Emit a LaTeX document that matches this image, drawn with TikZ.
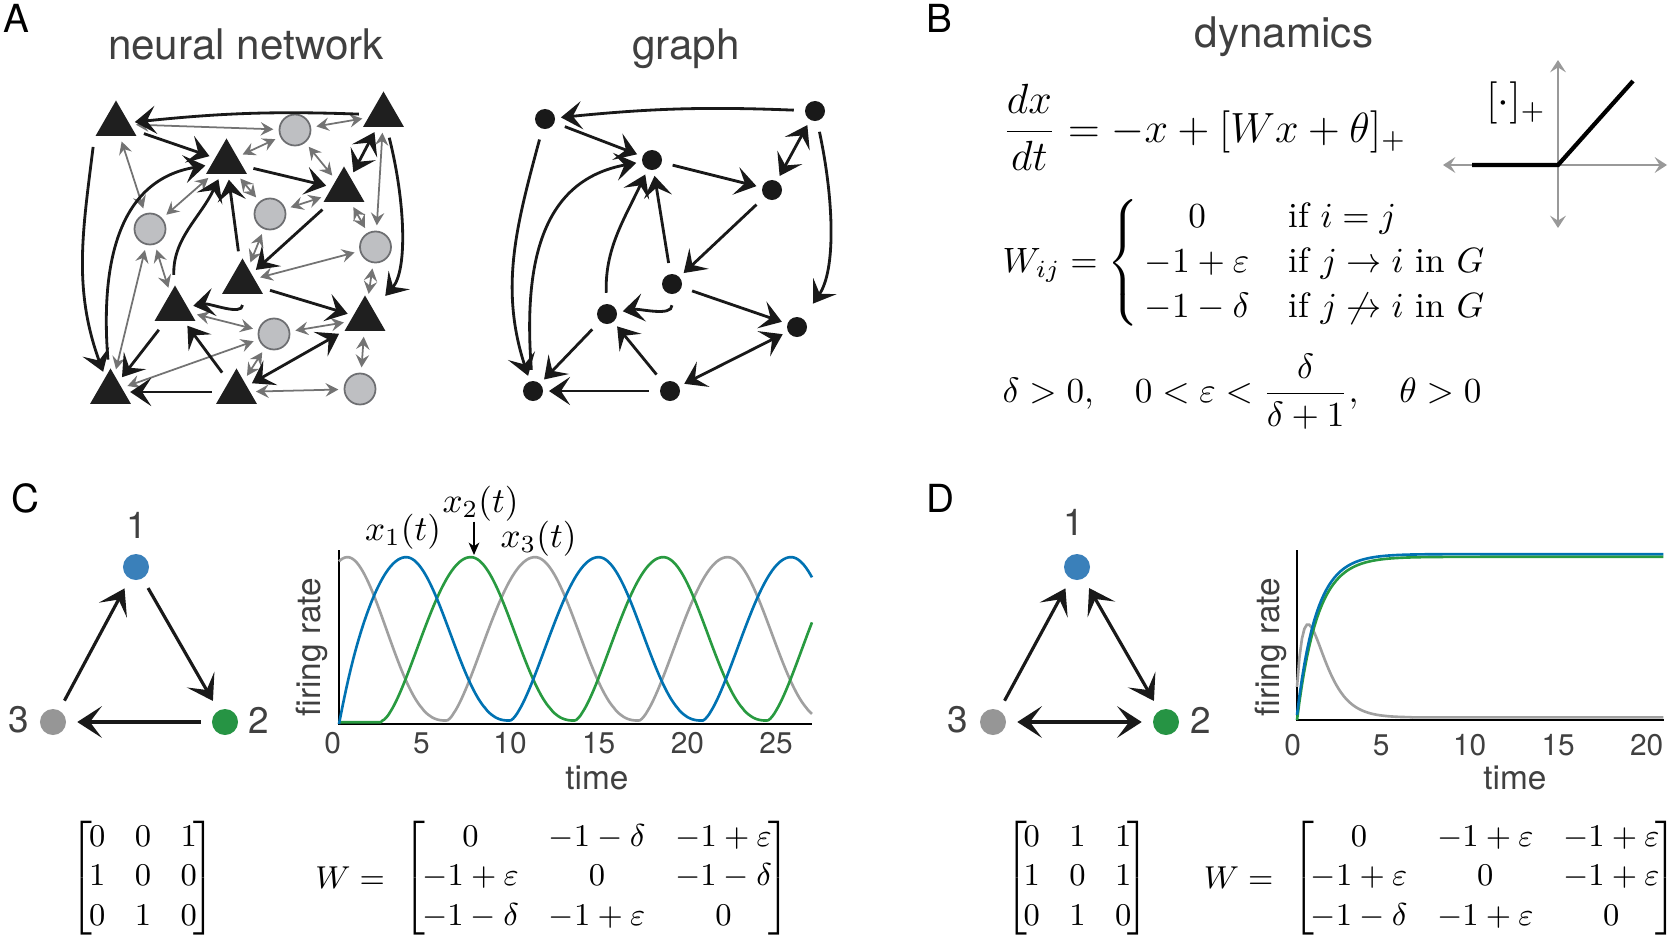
\RequirePackage{fix-cm}
\documentclass[tikz,border=0pt]{standalone}
\usepackage{amsmath,amssymb}
\usepackage[no-math]{fontspec}
\newfontfamily\hv{TeX Gyre Heros}
\usetikzlibrary{arrows.meta, shapes.geometric, positioning}
\definecolor{txtgray}{RGB}{64,64,64}
\definecolor{inhfill}{RGB}{190,191,194}
\definecolor{inhdraw}{RGB}{110,111,114}
\definecolor{nblue}{RGB}{58,128,186}
\definecolor{ngreen}{RGB}{38,148,68}
\definecolor{ngray}{RGB}{150,150,150}
\definecolor{lblue}{RGB}{0,114,178}
\definecolor{lgreen}{RGB}{40,154,64}
\definecolor{lgray}{RGB}{160,160,160}
\newcommand{\mtxset}{\fontsize{9}{11}\selectfont\setlength{\arraycolsep}{4.2pt}\renewcommand{\arraystretch}{1.03}}
\newcommand{\wmat}[1]{\left[\hskip-\arraycolsep\hskip-1pt\begin{array}{ccc}#1\end{array}\hskip-\arraycolsep\hskip-1pt\right]}
\tikzset{ttl/.style={font=\hv\fontsize{12}{14}\selectfont, text=txtgray}}
\tikzset{plab/.style={font=\hv\fontsize{11}{13}\selectfont}}
\tikzset{nlab/.style={font=\hv\fontsize{10.5}{12}\selectfont, text=txtgray}}
\tikzset{alab/.style={font=\hv\fontsize{9.5}{11}\selectfont, text=txtgray}}
\tikzset{tlab/.style={font=\hv\fontsize{8.5}{10}\selectfont, text=txtgray}}
\tikzset{mth/.style={inner sep=0pt}}
\tikzset{mtx/.style={inner sep=0pt, font=\mtxset}}
\tikzset{exc/.style={regular polygon, regular polygon sides=3, fill=black!88, inner sep=0pt, minimum size=0.47cm}}
\tikzset{inh/.style={circle, fill=inhfill, draw=inhdraw, line width=0.5pt, inner sep=0pt, minimum size=0.31cm}}
\tikzset{gnd/.style={circle, fill=black!90, inner sep=0pt, minimum size=0.2cm}}
\tikzset{cnd/.style={circle, inner sep=0pt, minimum size=0.26cm}}
\tikzset{ed/.style={draw=black!90, line width=0.8pt, -{Stealth[length=6pt,width=8pt,inset=2.6pt]}, shorten <=3pt, shorten >=1.5pt}}
\tikzset{ded/.style={ed, {Stealth[length=6pt,width=8pt,inset=2.6pt]}-{Stealth[length=6pt,width=8pt,inset=2.6pt]}, shorten <=1.5pt}}
\tikzset{gred/.style={draw=black!55, line width=0.5pt, {Stealth[length=3.6pt,width=3.8pt,inset=1.3pt]}-{Stealth[length=3.6pt,width=3.8pt,inset=1.3pt]}, shorten <=1.5pt, shorten >=1.5pt}}
\tikzset{ted/.style={draw=black!90, line width=0.9pt, -{Stealth[length=7pt,width=9pt,inset=3.4pt]}, shorten <=3pt, shorten >=3pt}}
\tikzset{tded/.style={ted, {Stealth[length=7pt,width=9pt,inset=3.4pt]}-{Stealth[length=7pt,width=9pt,inset=3.4pt]}}}
\tikzset{ax/.style={draw=black, line width=0.5pt}}
\tikzset{crv/.style={line width=0.75pt}}
\tikzset{relu/.style={draw=black!40, line width=0.6pt, {Stealth[length=3.5pt,width=4.5pt,inset=1.4pt]}-{Stealth[length=3.5pt,width=4.5pt,inset=1.4pt]}}}
\tikzset{xarr/.style={draw=black, line width=0.6pt, -{Stealth[length=3.5pt,width=3pt,inset=1pt]}}}

\begin{document}
\begin{tikzpicture}[x=0.01cm, y=0.01cm,
  declare function={wave(\s)=(\s<5.95)?pow(0.5+0.5*cos(180*\s/5.95)+0.0001,1.3):pow(abs(sin(90*(\s-5.95)/5.05))+0.0001,1.5);
                    osc(\t,\p)=0.02+0.95*wave(mod(\t-\p+33,11));}]
\useasboundingbox (0,0) rectangle (1675,-936);

% panel letters and titles
\node[plab, anchor=base] (la) at (16,-32) {A};
\node[plab, anchor=base] (lb) at (939,-32) {B};
\node[plab, anchor=base] (lc) at (25,-512) {C};
\node[plab, anchor=base] (ld) at (940,-512) {D};
\node[ttl, anchor=base] (tnn) at (246,-59) {neural network};
\node[ttl, anchor=base] (tgr) at (686,-59) {graph};
\node[ttl, anchor=base] (tdy) at (1284,-47) {dynamics};

% A: neural network
\node[exc] (e1) at (116,-124) {};
\node[exc] (e2) at (383.5,-115) {};
\node[exc] (e3) at (226.5,-162) {};
\node[exc] (e4) at (344,-190) {};
\node[exc] (e5) at (242.5,-282) {};
\node[exc] (e6) at (175,-309) {};
\node[exc] (e7) at (365,-319) {};
\node[exc] (e8) at (110.5,-392) {};
\node[exc] (e9) at (236.5,-392) {};
\node[inh] (i1) at (295,-130) {};
\node[inh] (i2) at (270,-214) {};
\node[inh] (i3) at (150,-229) {};
\node[inh] (i4) at (375.5,-247) {};
\node[inh] (i5) at (274,-334) {};
\node[inh] (i6) at (360,-389) {};
\foreach \a/\b in {e1/i1, i1/e2, i1/e3, i1/e4, e1/i3, i3/e3, e3/i2, i2/e4, e2/i4, e4/i4, i2/e5,
                   e5/i4, i3/e6, i3/e8, i4/e7, e6/i5, i5/e7, e8/i5, i5/e9, e7/i6, e9/i6}
  \draw[gred] (\a) -- (\b);
\foreach \a/\b in {e1/e3, e5/e3, e3/e4, e4/e5, e5/e7, e6/e8, e9/e6, e9/e8}
  \draw[ed] (\a) -- (\b);
\draw[ded] (e2) -- (e4);
\draw[ded] (e9) -- (e7);
\draw[ed] (e2) to[bend right=4] (e1);
\draw[ed] (e8) .. controls (100,-260) and (120,-180) .. (e3);
\draw[ed] (e6) to[out=92, in=245] (e3);
\draw[ed, shorten >=5pt] (e2) .. controls (405,-200) and (408,-270) .. (e7);
\draw[ed] (e1.corner 2) to[out=-97, in=110] (e8);
\draw[ed] (e5) to[out=-90, in=10] (e6);

% A: graph
\node[gnd] (g1) at (545,-119) {};
\node[gnd] (g2) at (815,-111) {};
\node[gnd] (g3) at (652,-160) {};
\node[gnd] (g4) at (772,-190) {};
\node[gnd] (g5) at (672,-284) {};
\node[gnd] (g6) at (607,-314) {};
\node[gnd] (g7) at (797,-327) {};
\node[gnd] (g8) at (533,-391) {};
\node[gnd] (g9) at (670,-391) {};
\foreach \a/\b in {g1/g3, g5/g3, g3/g4, g4/g5, g5/g7, g6/g8, g9/g6, g9/g8}
  \draw[ed] (\a) -- (\b);
\draw[ded] (g2) -- (g4);
\draw[ded] (g9) -- (g7);
\draw[ed] (g2) to[bend right=4] (g1);
\draw[ed] (g8) .. controls (523,-260) and (543,-180) .. (g3);
\draw[ed] (g6) to[out=92, in=245] (g3);
\draw[ed, shorten >=5pt] (g2) .. controls (834,-200) and (836,-270) .. (g7);
\draw[ed] (g1) to[out=-105, in=108] (g8);
\draw[ed] (g5) to[out=-90, in=10] (g6);

% B: dynamics
\node[mth, anchor=base west, font=\fontsize{12}{14}\selectfont] (eq1) at (1002,-142)
  {$\displaystyle \frac{dx}{dt} = -x + [Wx+\theta]_+$};
\node[mth, anchor=base west] (eq2) at (1002,-272)
  {$W_{ij} = \left\{\,\renewcommand{\arraystretch}{1.07}\begin{array}{@{}c@{\hspace{11pt}}l@{}}
     0 & \text{if } i=j\\
     -1+\varepsilon & \text{if } j\to i \text{ in } G\\
     -1-\delta & \text{if } j\not\to i \text{ in } G
   \end{array}\right.$};
\node[mth, anchor=base west] (eq3) at (1002,-402)
  {$\delta>0,\quad 0<\varepsilon<\dfrac{\delta}{\delta+1},\quad \theta>0$};
\coordinate (ro) at (1558,-165);
\draw[relu] (1443,-165) -- (1667,-165);
\draw[relu] (1558,-60) -- (1558,-228);
\draw[line width=1.2pt] (1472,-165) -- (ro) -- (1633,-81);
\node[mth, font=\fontsize{12}{14}\selectfont] (rl) at (1516,-103) {$[\cdot]_+$};

% C: cycle
\node[cnd, fill=nblue] (p1) at (136,-567) {};
\node[cnd, fill=ngreen] (p2) at (225,-722) {};
\node[cnd, fill=ngray] (p3) at (53,-722) {};
\node[nlab] (p1l) at (137,-525) {1};
\node[nlab] (p2l) at (259,-720) {2};
\node[nlab] (p3l) at (18.5,-720) {3};
\draw[ted] (p1) -- (p2);
\draw[ted] (p2) -- (p3);
\draw[ted] (p3) -- (p1);

\draw[ax] (339,-550) -- (339,-724) -- (812,-724);
\draw[crv, lgray] plot[domain=0:27.03, samples=240] ({339+17.5*\x}, {-724+172*osc(\x,0.2+0.4*exp(-\x/1.5))});
\draw[crv, lgreen] plot[domain=0:27.03, samples=240] ({339+17.5*\x}, {-724+172*((\x<2.48)?0.01:osc(\x,7.53))});
\draw[crv, lblue] plot[domain=0:27.03, samples=240] ({339+17.5*\x}, {-724+172*osc(\x,3.83)*(1-exp(-\x/0.45))});
\foreach \v [count=\k from 0] in {0,5,10,15,20,25}
  \node[tlab] (tc\k) at ({332.75+88.66*\k},-743) {\v};
\node[alab, rotate=90] (frc) at (312,-647) {firing rate};
\node[alab] (tmc) at (597,-778) {time};
\node[mth, anchor=base] (x1l) at (403,-540) {$x_1(t)$};
\node[mth, anchor=base] (x2l) at (480.5,-512) {$x_2(t)$};
\node[mth, anchor=base] (x3l) at (538.5,-547) {$x_3(t)$};
\coordinate (x2tip) at (474,-555);
\draw[xarr] (x2l.south -| x2tip) -- (x2tip);

\node[mtx] (ac) at (143,-878) {$\wmat{0&0&1\\1&0&0\\0&1&0}$};
\node[mtx] (wcm) at (597,-878)
  {$\wmat{0&-1-\delta&-1+\varepsilon\\-1+\varepsilon&0&-1-\delta\\-1-\delta&-1+\varepsilon&0}$};
\node[mtx, left=5pt of wcm] (wcl) {$W=$};

% D: bidirectional
\node[cnd, fill=nblue] (q1) at (1077,-567) {};
\node[cnd, fill=ngreen] (q2) at (1166,-722) {};
\node[cnd, fill=ngray] (q3) at (993,-722) {};
\node[nlab] (q1l) at (1074,-522) {1};
\node[nlab] (q2l) at (1200.5,-720) {2};
\node[nlab] (q3l) at (958,-720) {3};
\draw[ted] (q3) -- (q1);
\draw[tded] (q1) -- (q2);
\draw[tded] (q3) -- (q2);

\draw[ax] (1297,-550) -- (1297,-720) -- (1664,-720);
\draw[crv, lgray] plot[domain=0:20.7, samples=150] ({1297+17.7*\x}, {-720+170*(0.015+(0.18+1.8*\x)*exp(-\x/0.72))});
\draw[crv, lgreen] plot[domain=0:20.7, samples=150] ({1297+17.7*\x}, {-720+170*0.96*(1-exp(-\x/1.15))});
\draw[crv, lblue] plot[domain=0:20.7, samples=150] ({1297+17.7*\x}, {-720+170*(0.03+0.946*(1-exp(-\x/1.1)))});
\foreach \v [count=\k from 0] in {0,5,10,15,20}
  \node[tlab] (td\k) at ({1292.7+88.5*\k},-745) {\v};
\node[alab, rotate=90] (frd) at (1270.5,-647) {firing rate};
\node[alab] (tmd) at (1515,-778) {time};

\node[mtx] (ad) at (1077.5,-878) {$\wmat{0&1&1\\1&0&1\\0&1&0}$};
\node[mtx] (wdm) at (1485,-878)
  {$\wmat{0&-1+\varepsilon&-1+\varepsilon\\-1+\varepsilon&0&-1+\varepsilon\\-1-\delta&-1+\varepsilon&0}$};
\node[mtx, left=5pt of wdm] (wdl) {$W=$};
\end{tikzpicture}
\end{document}
